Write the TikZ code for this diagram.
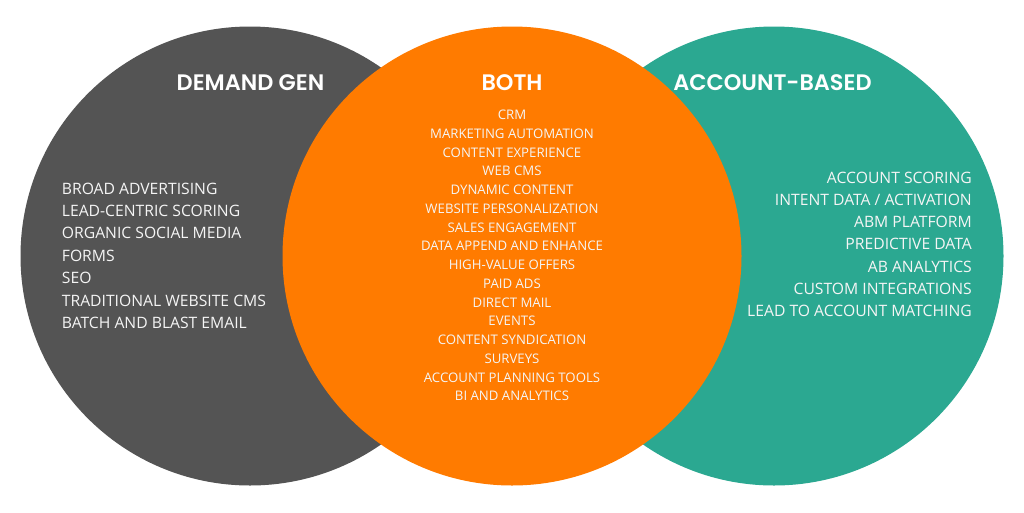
\documentclass[tikz,border=0pt]{standalone}
\usepackage{fontspec}
\setmainfont{Open Sans}
\newfontfamily\titlefont{Poppins}[BoldFont={* SemiBold}]
\definecolor{dggray}{RGB}{84,84,84}
\definecolor{bothorange}{RGB}{255,123,0}
\definecolor{abteal}{RGB}{43,168,145}
\definecolor{txt}{RGB}{245,245,245}
\begin{document}
\begin{tikzpicture}[x=1pt,y=-1pt,
  title/.style={text=white,inner sep=0pt,font=\titlefont\bfseries\fontsize{22.4}{26}\selectfont},
  sideitem/.style={text=txt,inner sep=0pt,font=\fontsize{15.7}{18}\selectfont},
  miditem/.style={text=txt,inner sep=0pt,font=\fontsize{13.2}{16}\selectfont}]
\useasboundingbox (0,0) rectangle (1024,512);
\fill[white] (0,0) rectangle (1024,512);
\fill[dggray] (250,256) circle[radius=229.5];
\fill[abteal] (774,256) circle[radius=229.5];
\fill[bothorange] (512,256) circle[radius=229.5];
\node[title,anchor=base] (tdg) at (250.5,90.8) {DEMAND GEN};
\node[title,anchor=base] (tboth) at (512,90.8) {BOTH};
\node[title,anchor=base] (tab) at (772.5,90.8) {ACCOUNT-BASED};
\foreach \t [count=\i] in {BROAD ADVERTISING,LEAD-CENTRIC SCORING,ORGANIC SOCIAL MEDIA,FORMS,SEO,TRADITIONAL WEBSITE CMS,BATCH AND BLAST EMAIL}
  \node[sideitem,anchor=base west] (dg\i) at (61.7,{194+(\i-1)*22.4}) {\t};
\foreach \t [count=\i] in {ACCOUNT SCORING,INTENT DATA / ACTIVATION,ABM PLATFORM,PREDICTIVE DATA,AB ANALYTICS,CUSTOM INTEGRATIONS,LEAD TO ACCOUNT MATCHING}
  \node[sideitem,anchor=base east] (ab\i) at (972,{183+(\i-1)*22.3}) {\t};
\foreach \t [count=\i] in {CRM,MARKETING AUTOMATION,CONTENT EXPERIENCE,WEB CMS,DYNAMIC CONTENT,WEBSITE PERSONALIZATION,SALES ENGAGEMENT,DATA APPEND AND ENHANCE,HIGH-VALUE OFFERS,PAID ADS,DIRECT MAIL,EVENTS,CONTENT SYNDICATION,SURVEYS,ACCOUNT PLANNING TOOLS,BI AND ANALYTICS}
  \node[miditem,anchor=base] (b\i) at (512,{119.5+(\i-1)*18.75}) {\t};
\end{tikzpicture}
\end{document}
